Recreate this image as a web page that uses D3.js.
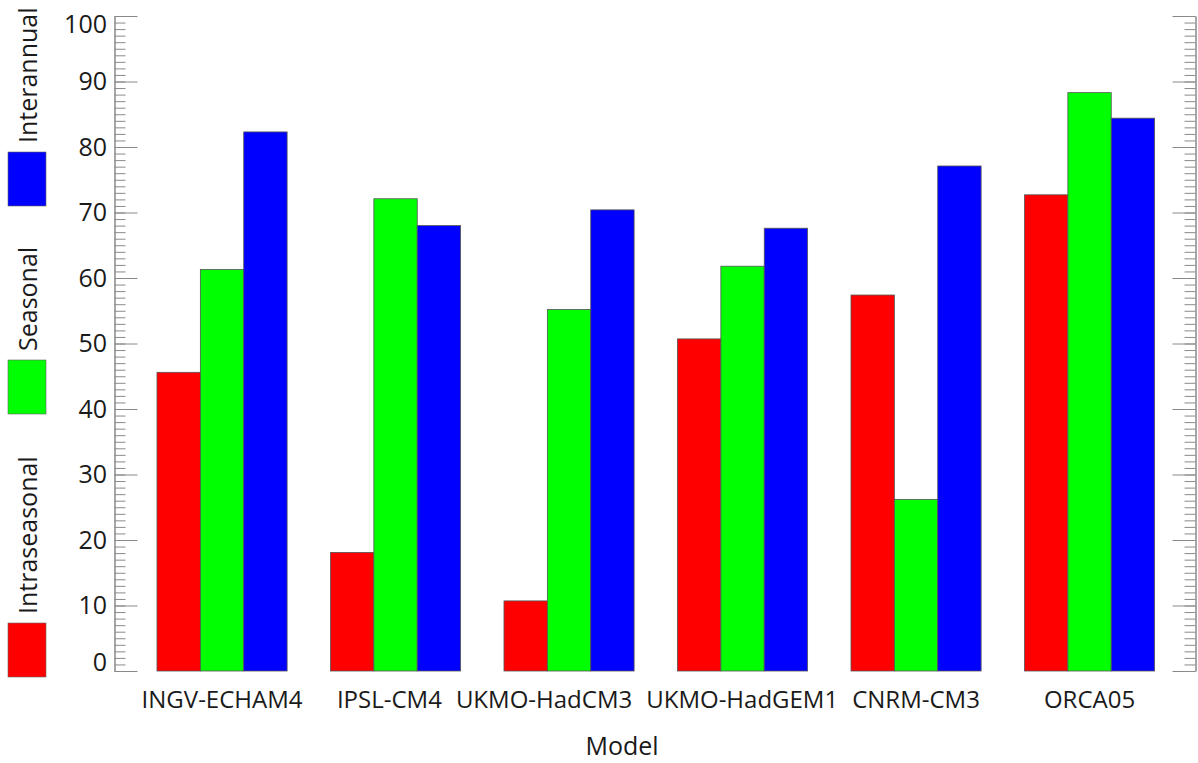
<!DOCTYPE html>
<html><head><meta charset="utf-8">
<script src="https://cdn.jsdelivr.net/npm/d3@7"></script>
<style>body{margin:0;background:#fff;} svg{display:block;font-family:"Open Sans",sans-serif;}</style>
</head><body><svg id="chart" width="1198" height="763"></svg>
<script>
const models = ["INGV-ECHAM4","IPSL-CM4","UKMO-HadCM3","UKMO-HadGEM1","CNRM-CM3","ORCA05"];
const seriesNames = ["Intraseasonal","Seasonal","Interannual"];
const intraseasonal = [45.6, 18.1, 10.7, 50.7, 57.4, 72.7];
const seasonal = [61.3, 72.1, 55.2, 61.8, 26.2, 88.3];
const interannual = [82.3, 68.0, 70.4, 67.6, 77.1, 84.4];
const seriesColors = ["#ff0000", "#00ff00", "#0000ff"];
const majorTicks = [0,10,20,30,40,50,60,70,80,90,100];
const minorTicks = d3.range(0, 101, 1);
const xTitle = "Model";

const seriesValues = [intraseasonal, seasonal, interannual];
const svg = d3.select("#chart");

const y = d3.scaleLinear().domain([0, 100]).range([671, 16]);
const x = d3.scaleBand().domain(models).range([135.3, 1176.3]).paddingInner(0.25).paddingOuter(0.125);
const xs = d3.scaleBand().domain(seriesNames).range([0, x.bandwidth()]);

// bars
const groups = svg.append("g").selectAll("g").data(models).join("g")
  .attr("transform", d => `translate(${x(d)},0)`);
groups.selectAll("rect")
  .data((m, i) => seriesNames.map((s, k) => ({s, v: seriesValues[k][i], c: seriesColors[k]})))
  .join("rect")
  .attr("x", d => xs(d.s))
  .attr("width", xs.bandwidth())
  .attr("y", d => y(d.v))
  .attr("height", d => y(0) - y(d.v))
  .attr("fill", d => d.c)
  .attr("stroke", "#555")
  .attr("stroke-width", 0.8);

// axes
const axisColor = "#8a8a8a";
function styleAxis(g){
  g.selectAll("path,line").attr("stroke", axisColor).attr("stroke-width", 1);
  g.selectAll("text").remove();
}
const xL = 114.5, xR = 1195.5;
svg.append("g").attr("transform", `translate(${xL},0)`)
  .call(d3.axisRight(y).tickValues(minorTicks).tickSize(11).tickSizeOuter(0).tickFormat(""))
  .call(styleAxis);
svg.append("g").attr("transform", `translate(${xL},0)`)
  .call(d3.axisRight(y).tickValues(majorTicks).tickSize(23).tickSizeOuter(0).tickFormat(""))
  .call(styleAxis);
svg.append("g").attr("transform", `translate(${xR},0)`)
  .call(d3.axisLeft(y).tickValues(minorTicks).tickSize(11).tickSizeOuter(0).tickFormat(""))
  .call(styleAxis);
svg.append("g").attr("transform", `translate(${xR},0)`)
  .call(d3.axisLeft(y).tickValues(majorTicks).tickSize(23).tickSizeOuter(0).tickFormat(""))
  .call(styleAxis);

// y tick labels (kept inside the axis extent)
svg.append("g").selectAll("text").data(majorTicks).join("text")
  .attr("x", 107)
  .attr("y", d => Math.min(Math.max(y(d), 24), 662))
  .attr("dy", "0.35em")
  .attr("text-anchor", "end")
  .attr("font-size", 25)
  .attr("fill", "#1a1a1a")
  .text(d => d);

// category labels, nudged left where they would collide
const catLabels = svg.append("g").selectAll("text").data(models).join("text")
  .attr("x", d => x(d) + x.bandwidth() / 2)
  .attr("y", 708)
  .attr("text-anchor", "middle")
  .attr("font-size", 24)
  .attr("fill", "#1a1a1a")
  .text(d => d);
const nodes = catLabels.nodes();
const pos = models.map((d, i) => ({c: x(d) + x.bandwidth() / 2, w: nodes[i].getComputedTextLength()}));
for (let i = pos.length - 2; i >= 0; i--) {
  const rightEdge = pos[i].c + pos[i].w / 2;
  const nextLeft = pos[i + 1].c - pos[i + 1].w / 2;
  const gap = 14;
  if (rightEdge > nextLeft - gap) pos[i].c -= rightEdge - (nextLeft - gap);
}
catLabels.attr("x", (d, i) => pos[i].c);

svg.append("text").attr("x", 622).attr("y", 755).attr("text-anchor", "middle")
  .attr("font-size", 25).attr("fill", "#1a1a1a").text(xTitle);

// legend
const legendBoxTop = [623, 360, 152];
const legend = svg.append("g").selectAll("g").data(seriesNames).join("g");
legend.append("rect")
  .attr("x", 8).attr("width", 38)
  .attr("y", (d, i) => legendBoxTop[i]).attr("height", 54)
  .attr("fill", (d, i) => seriesColors[i])
  .attr("stroke", "#666").attr("stroke-width", 0.6);
legend.append("text")
  .attr("transform", (d, i) => `translate(37,${legendBoxTop[i] - 9}) rotate(-90)`)
  .attr("text-anchor", "start")
  .attr("font-size", 25)
  .attr("fill", "#1a1a1a")
  .text(d => d);
</script></body></html>
